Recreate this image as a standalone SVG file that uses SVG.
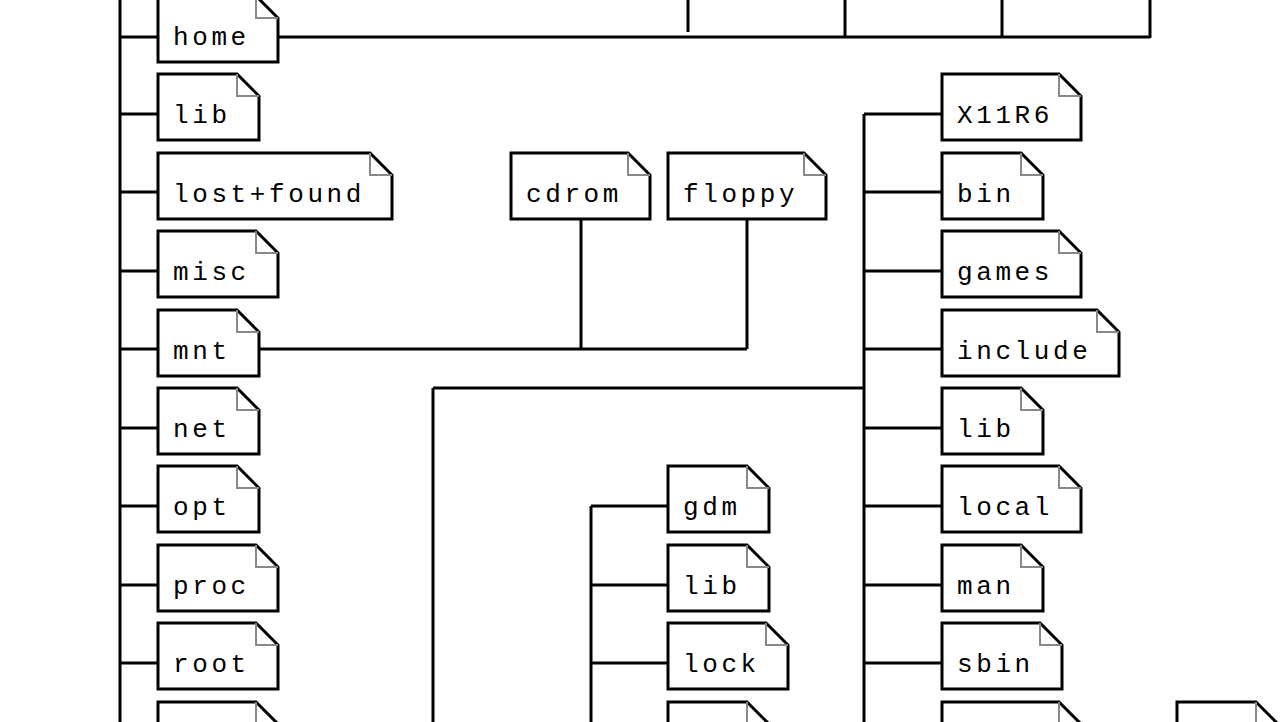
<svg xmlns="http://www.w3.org/2000/svg" width="1280" height="722" viewBox="0 0 1280 722">
<style>
.b{fill:#fff;stroke:#000;stroke-width:3}
.f{fill:none;stroke:#888;stroke-width:2}
.t{font-family:"Liberation Mono",monospace;font-size:26px;letter-spacing:3.6px;fill:#000}
#c line{stroke:#000;stroke-width:3}
</style>
<defs>
<path id="p120" d="M0,0 h98 l22,22 v44 h-120 z"/>
</defs>
<rect width="1280" height="722" fill="#fff"/>
<g id="c">
<line x1="120" y1="0" x2="120" y2="722"/>
<line x1="278" y1="37" x2="1150" y2="37"/>
<line x1="688" y1="0" x2="688" y2="32"/>
<line x1="845" y1="0" x2="845" y2="37"/>
<line x1="1002" y1="0" x2="1002" y2="37"/>
<line x1="1150" y1="0" x2="1150" y2="38"/>
<line x1="259" y1="349" x2="747" y2="349"/>
<line x1="581" y1="219" x2="581" y2="349"/>
<line x1="747" y1="219" x2="747" y2="349"/>
<line x1="864" y1="114" x2="864" y2="722"/>
<line x1="433" y1="388" x2="864" y2="388"/>
<line x1="433" y1="388" x2="433" y2="722"/>
<line x1="591" y1="506" x2="591" y2="722"/>
<line x1="120" y1="37" x2="158" y2="37"/>
<line x1="120" y1="114" x2="158" y2="114"/>
<line x1="120" y1="192" x2="158" y2="192"/>
<line x1="120" y1="271" x2="158" y2="271"/>
<line x1="120" y1="349" x2="158" y2="349"/>
<line x1="120" y1="428" x2="158" y2="428"/>
<line x1="120" y1="506" x2="158" y2="506"/>
<line x1="120" y1="585" x2="158" y2="585"/>
<line x1="120" y1="663" x2="158" y2="663"/>
<line x1="864" y1="114" x2="942" y2="114"/>
<line x1="864" y1="192" x2="942" y2="192"/>
<line x1="864" y1="271" x2="942" y2="271"/>
<line x1="864" y1="349" x2="942" y2="349"/>
<line x1="864" y1="428" x2="942" y2="428"/>
<line x1="864" y1="506" x2="942" y2="506"/>
<line x1="864" y1="585" x2="942" y2="585"/>
<line x1="864" y1="663" x2="942" y2="663"/>
<line x1="591" y1="506" x2="668" y2="506"/>
<line x1="591" y1="585" x2="668" y2="585"/>
<line x1="591" y1="663" x2="668" y2="663"/>
</g>
<g id="home" transform="translate(158,-4)"><path class="b" d="M0,0 h98 l22,22 v44 h-120 z"/><path class="f" d="M98,0 v22 h22"/><text class="t" x="15" y="49">home</text></g>
<g id="lib" transform="translate(158,74)"><path class="b" d="M0,0 h79 l22,22 v44 h-101 z"/><path class="f" d="M79,0 v22 h22"/><text class="t" x="15" y="49">lib</text></g>
<g id="lostfound" transform="translate(158,153)"><path class="b" d="M0,0 h212 l22,22 v44 h-234 z"/><path class="f" d="M212,0 v22 h22"/><text class="t" x="15" y="49">lost+found</text></g>
<g id="misc" transform="translate(158,231)"><path class="b" d="M0,0 h98 l22,22 v44 h-120 z"/><path class="f" d="M98,0 v22 h22"/><text class="t" x="15" y="49">misc</text></g>
<g id="mnt" transform="translate(158,310)"><path class="b" d="M0,0 h79 l22,22 v44 h-101 z"/><path class="f" d="M79,0 v22 h22"/><text class="t" x="15" y="49">mnt</text></g>
<g id="net" transform="translate(158,388)"><path class="b" d="M0,0 h79 l22,22 v44 h-101 z"/><path class="f" d="M79,0 v22 h22"/><text class="t" x="15" y="49">net</text></g>
<g id="opt" transform="translate(158,466)"><path class="b" d="M0,0 h79 l22,22 v44 h-101 z"/><path class="f" d="M79,0 v22 h22"/><text class="t" x="15" y="49">opt</text></g>
<g id="proc" transform="translate(158,545)"><path class="b" d="M0,0 h98 l22,22 v44 h-120 z"/><path class="f" d="M98,0 v22 h22"/><text class="t" x="15" y="49">proc</text></g>
<g id="root" transform="translate(158,623)"><path class="b" d="M0,0 h98 l22,22 v44 h-120 z"/><path class="f" d="M98,0 v22 h22"/><text class="t" x="15" y="49">root</text></g>
<g id="left-bottom" transform="translate(158,702)"><path class="b" d="M0,0 h98 l22,22 v44 h-120 z"/><path class="f" d="M98,0 v22 h22"/></g>
<g id="cdrom" transform="translate(511,153)"><path class="b" d="M0,0 h117 l22,22 v44 h-139 z"/><path class="f" d="M117,0 v22 h22"/><text class="t" x="15" y="49">cdrom</text></g>
<g id="floppy" transform="translate(668,153)"><path class="b" d="M0,0 h136 l22,22 v44 h-158 z"/><path class="f" d="M136,0 v22 h22"/><text class="t" x="15" y="49">floppy</text></g>
<g id="X11R6" transform="translate(942,74)"><path class="b" d="M0,0 h117 l22,22 v44 h-139 z"/><path class="f" d="M117,0 v22 h22"/><text class="t" x="15" y="49">X11R6</text></g>
<g id="bin" transform="translate(942,153)"><path class="b" d="M0,0 h79 l22,22 v44 h-101 z"/><path class="f" d="M79,0 v22 h22"/><text class="t" x="15" y="49">bin</text></g>
<g id="games" transform="translate(942,231)"><path class="b" d="M0,0 h117 l22,22 v44 h-139 z"/><path class="f" d="M117,0 v22 h22"/><text class="t" x="15" y="49">games</text></g>
<g id="include" transform="translate(942,310)"><path class="b" d="M0,0 h155 l22,22 v44 h-177 z"/><path class="f" d="M155,0 v22 h22"/><text class="t" x="15" y="49">include</text></g>
<g id="lib2" transform="translate(942,388)"><path class="b" d="M0,0 h79 l22,22 v44 h-101 z"/><path class="f" d="M79,0 v22 h22"/><text class="t" x="15" y="49">lib</text></g>
<g id="local" transform="translate(942,466)"><path class="b" d="M0,0 h117 l22,22 v44 h-139 z"/><path class="f" d="M117,0 v22 h22"/><text class="t" x="15" y="49">local</text></g>
<g id="man" transform="translate(942,545)"><path class="b" d="M0,0 h79 l22,22 v44 h-101 z"/><path class="f" d="M79,0 v22 h22"/><text class="t" x="15" y="49">man</text></g>
<g id="sbin" transform="translate(942,623)"><path class="b" d="M0,0 h98 l22,22 v44 h-120 z"/><path class="f" d="M98,0 v22 h22"/><text class="t" x="15" y="49">sbin</text></g>
<g id="right-bottom" transform="translate(942,702)"><path class="b" d="M0,0 h117 l22,22 v44 h-139 z"/><path class="f" d="M117,0 v22 h22"/></g>
<g id="gdm" transform="translate(668,466)"><path class="b" d="M0,0 h79 l22,22 v44 h-101 z"/><path class="f" d="M79,0 v22 h22"/><text class="t" x="15" y="49">gdm</text></g>
<g id="lib3" transform="translate(668,545)"><path class="b" d="M0,0 h79 l22,22 v44 h-101 z"/><path class="f" d="M79,0 v22 h22"/><text class="t" x="15" y="49">lib</text></g>
<g id="lock" transform="translate(668,623)"><path class="b" d="M0,0 h98 l22,22 v44 h-120 z"/><path class="f" d="M98,0 v22 h22"/><text class="t" x="15" y="49">lock</text></g>
<g id="mid-bottom" transform="translate(668,702)"><path class="b" d="M0,0 h79 l22,22 v44 h-101 z"/><path class="f" d="M79,0 v22 h22"/></g>
<g id="far-bottom" transform="translate(1177,702)"><path class="b" d="M0,0 h79 l22,22 v44 h-101 z"/><path class="f" d="M79,0 v22 h22"/></g>
</svg>
